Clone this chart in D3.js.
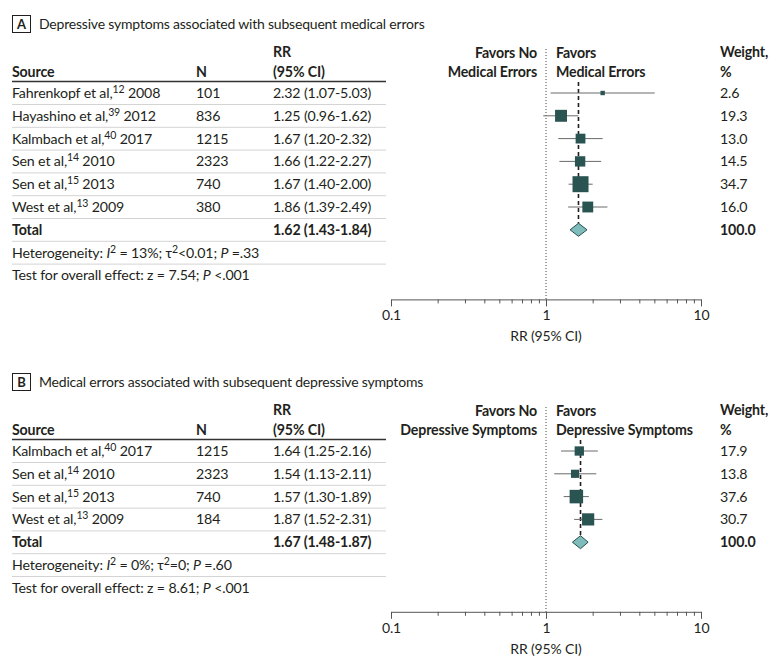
<!DOCTYPE html>
<html><head><meta charset="utf-8">
<script src="https://cdn.jsdelivr.net/npm/d3@7"></script>
<style>
body{margin:0;background:#fff;}
text{font-family:Lato,"Noto Sans",sans-serif;fill:#231f20;letter-spacing:-0.15px;}
</style></head>
<body><svg id="chart" width="780" height="668"></svg>
<script>
// ---- Panel A data ----
const titleA = "Depressive symptoms associated with subsequent medical errors";
const authorsA = ["Fahrenkopf et al,", "Hayashino et al,", "Kalmbach et al,", "Sen et al,", "Sen et al,", "West et al,"];
const refsA = ["12", "39", "40", "14", "15", "13"];
const yearsA = ["2008", "2012", "2017", "2010", "2013", "2009"];
const nA = [101, 836, 1215, 2323, 740, 380];
const rrA = [2.32, 1.25, 1.67, 1.66, 1.67, 1.86];
const lowA = [1.07, 0.96, 1.20, 1.22, 1.40, 1.39];
const highA = [5.03, 1.62, 2.32, 2.27, 2.00, 2.49];
const weightA = [2.6, 19.3, 13.0, 14.5, 34.7, 16.0];
const totalA = [1.62, 1.43, 1.84];
const hetA = ["13%", "<0.01", ".33"];
const testA = ["7.54", "<.001"];
const favorsA = ["Medical Errors"];

// ---- Panel B data ----
const titleB = "Medical errors associated with subsequent depressive symptoms";
const authorsB = ["Kalmbach et al,", "Sen et al,", "Sen et al,", "West et al,"];
const refsB = ["40", "14", "15", "13"];
const yearsB = ["2017", "2010", "2013", "2009"];
const nB = [1215, 2323, 740, 184];
const rrB = [1.64, 1.54, 1.57, 1.87];
const lowB = [1.25, 1.13, 1.30, 1.52];
const highB = [2.16, 2.11, 1.89, 2.31];
const weightB = [17.9, 13.8, 37.6, 30.7];
const totalB = [1.67, 1.48, 1.87];
const hetB = ["0%", "=0", ".60"];
const testB = ["8.61", "<.001"];
const favorsB = ["Depressive Symptoms"];

const axisTicks = [0.1,0.2,0.3,0.4,0.5,0.6,0.7,0.8,0.9,1,2,3,4,5,6,7,8,9,10];
const majorTicks = [0.1, 1, 10];

const svg = d3.select("#chart");
const x = d3.scaleLog().domain([0.1, 10]).range([391, 701]);
const fmt = d3.format(".2f");
const colSource = 12, colN = 196, colRR = 273, colW = 720, tableRight = 386;
const rowH = 22.8;
const fs = 14.2;
const sqColor = "#2a5452", diaFill = "#7fbdbc", diaStroke = "#2a4f4e", ciColor = "#6a6a6a";

function panel(cfg) {
  const g = svg.append("g");
  const y0 = cfg.y0;
  const n = cfg.authors.length;
  const rowY = i => y0 + i * rowH;
  const totalY = rowY(n), hetY = rowY(n + 1), testY = rowY(n + 2);
  const axisY = testY + 24;

  // letter box + title
  g.append("rect").attr("x", 12.5).attr("y", y0 - 77.5).attr("width", 18).attr("height", 17)
    .attr("fill", "none").attr("stroke", "#231f20").attr("stroke-width", 1);
  g.append("text").attr("x", 21.5).attr("y", y0 - 64).attr("text-anchor", "middle")
    .attr("font-size", 13).attr("font-weight", "bold").text(cfg.letter);
  g.append("text").attr("x", 39).attr("y", y0 - 64).attr("font-size", 14).style("letter-spacing", "-0.2px").text(cfg.title);

  // headers
  const hdr = (xx, yy, t, anchor) => g.append("text").attr("x", xx).attr("y", yy)
    .attr("font-size", fs).attr("font-weight", "bold").attr("text-anchor", anchor || "start").text(t);
  hdr(colSource, y0 - 16, "Source");
  hdr(colN, y0 - 16, "N");
  hdr(colRR, y0 - 36, "RR");
  hdr(colRR, y0 - 16, "(95% CI)");
  hdr(537, y0 - 35, "Favors No", "end");
  hdr(537, y0 - 16, cfg.favors, "end");
  hdr(556, y0 - 35, "Favors");
  hdr(556, y0 - 16, cfg.favors);
  hdr(colW, y0 - 36, "Weight,");
  hdr(colW, y0 - 16, "%");

  // header rule
  g.append("line").attr("x1", colSource).attr("x2", tableRight).attr("y1", y0 - 11.5).attr("y2", y0 - 11.5)
    .attr("stroke", "#333").attr("stroke-width", 1.5);
  // separators
  for (let i = 0; i < n + 2; i++) {
    g.append("line").attr("x1", colSource).attr("x2", tableRight)
      .attr("y1", rowY(i) + 11.5).attr("y2", rowY(i) + 11.5)
      .attr("stroke", "#d4d4d4").attr("stroke-width", 1);
  }

  // study rows text
  for (let i = 0; i < n; i++) {
    const yy = rowY(i) + 5;
    const t = g.append("text").attr("x", colSource).attr("y", yy).attr("font-size", fs);
    t.append("tspan").text(cfg.authors[i]);
    t.append("tspan").attr("dy", -5).attr("font-size", 10.5).text(cfg.refs[i]);
    t.append("tspan").attr("dy", 5).text("\u00a0" + cfg.years[i]);
    g.append("text").attr("x", colN).attr("y", yy).attr("font-size", fs).text(cfg.nn[i]);
    g.append("text").attr("x", colRR).attr("y", yy).attr("font-size", fs)
      .text(`${fmt(cfg.rr[i])} (${fmt(cfg.low[i])}-${fmt(cfg.high[i])})`);
    g.append("text").attr("x", colW).attr("y", yy).attr("font-size", fs).text(d3.format(".1f")(cfg.weight[i]));
  }
  // total row
  g.append("text").attr("x", colSource).attr("y", totalY + 5).attr("font-size", fs).attr("font-weight", "bold").text("Total");
  g.append("text").attr("x", colRR).attr("y", totalY + 5).attr("font-size", fs).attr("font-weight", "bold")
    .text(`${fmt(cfg.total[0])} (${fmt(cfg.total[1])}-${fmt(cfg.total[2])})`);
  g.append("text").attr("x", colW).attr("y", totalY + 5).attr("font-size", fs).attr("font-weight", "bold").text("100.0");

  // heterogeneity
  const h = g.append("text").attr("x", colSource).attr("y", hetY + 5).attr("font-size", fs);
  h.append("tspan").text("Heterogeneity: ");
  h.append("tspan").attr("font-style", "italic").text("I");
  h.append("tspan").attr("dy", -5).attr("font-size", 10.5).text("2");
  h.append("tspan").attr("dy", 5).text(" = " + cfg.het[0] + "; \u03c4");
  h.append("tspan").attr("dy", -5).attr("font-size", 10.5).text("2");
  h.append("tspan").attr("dy", 5).text(cfg.het[1] + "; ");
  h.append("tspan").attr("font-style", "italic").text("P");
  h.append("tspan").text(" =" + cfg.het[2]);
  const tt = g.append("text").attr("x", colSource).attr("y", testY + 5).attr("font-size", fs);
  tt.append("tspan").text("Test for overall effect: z = " + cfg.test[0] + "; ");
  tt.append("tspan").attr("font-style", "italic").text("P");
  tt.append("tspan").text(" " + cfg.test[1]);

  // reference line at 1 (dotted)
  g.append("line").attr("x1", x(1)).attr("x2", x(1)).attr("y1", y0 - 44).attr("y2", axisY)
    .attr("stroke", "#444").attr("stroke-width", 1).attr("stroke-dasharray", "1,2");
  // summary dashed line
  g.append("line").attr("x1", x(cfg.total[0])).attr("x2", x(cfg.total[0]))
    .attr("y1", y0 - 11).attr("y2", totalY - 6)
    .attr("stroke", "#231f20").attr("stroke-width", 1.6).attr("stroke-dasharray", "4,3");

  // CIs
  const rows = d3.range(n).map(i => ({rr: cfg.rr[i], lo: cfg.low[i], hi: cfg.high[i], w: cfg.weight[i], y: rowY(i)}));
  const size = d3.scaleSqrt().domain([0, d3.max(cfg.weight)]).range([0, cfg.maxSq]);
  g.selectAll(".ci").data(rows).join("line")
    .attr("x1", d => x(d.lo)).attr("x2", d => x(d.hi)).attr("y1", d => d.y).attr("y2", d => d.y)
    .attr("stroke", ciColor).attr("stroke-width", 1);
  g.selectAll(".sq").data(rows).join("rect")
    .attr("x", d => x(d.rr) - size(d.w) / 2).attr("y", d => d.y - size(d.w) / 2)
    .attr("width", d => size(d.w)).attr("height", d => size(d.w))
    .attr("fill", sqColor);
  // diamond
  const [m, lo, hi] = cfg.total;
  g.append("path")
    .attr("d", `M${x(lo)},${totalY} L${x(m)},${totalY - 6.5} L${x(hi)},${totalY} L${x(m)},${totalY + 6.5} Z`)
    .attr("fill", diaFill).attr("stroke", diaStroke).attr("stroke-width", 1);

  // axis
  const ax = d3.axisBottom(x).tickValues(axisTicks).tickSizeOuter(0)
    .tickFormat(d => majorTicks.includes(d) ? (d === 0.1 ? "0.1" : String(d)) : "");
  const axg = g.append("g").attr("transform", `translate(0,${axisY})`).call(ax);
  axg.select(".domain").attr("stroke", "#555");
  axg.selectAll(".tick line").attr("stroke", "#555")
    .attr("y2", d => majorTicks.includes(d) ? 7 : 4);
  axg.selectAll(".tick text").attr("font-size", 14).attr("fill", "#231f20")
    .attr("font-family", "Lato, sans-serif").attr("y", 11).attr("dy", "0.71em");
  g.append("text").attr("x", x(1)).attr("y", axisY + 42).attr("text-anchor", "middle")
    .attr("font-size", 14).text("RR (95% CI)");
}

panel({letter: "A", title: titleA, y0: 93, authors: authorsA, refs: refsA, years: yearsA, nn: nA,
  rr: rrA, low: lowA, high: highA, weight: weightA, total: totalA, het: hetA, test: testA,
  favors: favorsA[0], maxSq: 16});
panel({letter: "B", title: titleB, y0: 451, authors: authorsB, refs: refsB, years: yearsB, nn: nB,
  rr: rrB, low: lowB, high: highB, weight: weightB, total: totalB, het: hetB, test: testB,
  favors: favorsB[0], maxSq: 13.5});
</script></body></html>
